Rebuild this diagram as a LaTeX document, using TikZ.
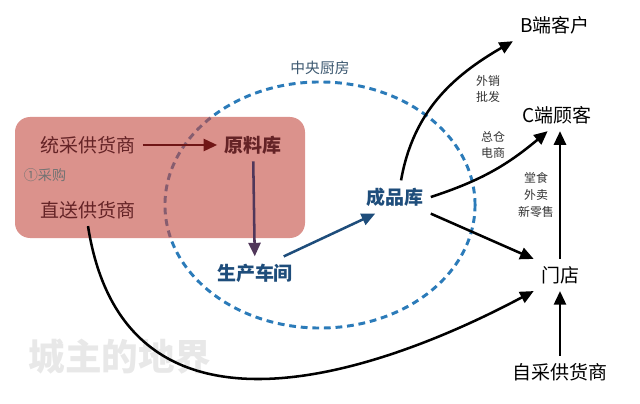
\documentclass[tikz,border=0pt]{standalone}
\usepackage{fontspec}
\setmainfont{Noto Sans CJK SC}
\usetikzlibrary{arrows.meta, positioning, calc}
\definecolor{rosa}{RGB}{195,73,63}
\definecolor{vinho}{RGB}{100,35,38}
\definecolor{setavinho}{RGB}{112,22,22}
\definecolor{roxo}{RGB}{80,55,90}
\definecolor{azul}{RGB}{30,77,123}
\definecolor{tracoazul}{RGB}{43,123,185}
\definecolor{cinzaazul}{RGB}{60,88,112}

\begin{document}
\begin{tikzpicture}[x=0.025cm, y=0.025cm,
        rotulo/.style={inner sep=5pt, font=\fontsize{13.5}{16}\selectfont},
        destaque/.style={inner sep=5pt, font=\fontsize{13.5}{16}\selectfont\bfseries},
        nota/.style={align=center, inner sep=1pt, text=black!80, font=\fontsize{8.5}{12}\selectfont},
        seta/.style={-{Triangle[length=3.4mm, width=3mm]}, line width=1.8pt},
        cozinha/.style={draw=tracoazul, line width=2.1pt, dash pattern=on 1.7mm off 1.2mm}
    ]
        \useasboundingbox (0,0) rectangle (640,403);

        \draw[cozinha] (320,198) ellipse [x radius=3.875cm, y radius=3.075cm];
        \node[text=cinzaazul, font=\fontsize{10.5}{12}\selectfont] (kitchen) at (320,335) {中央厨房};

        \fill[rosa, fill opacity=0.6, rounded corners=3.75mm] (15,165) rectangle (305,286);

        \node[rotulo, text=vinho] (tongcai) at (88,258) {统采供货商};
        \node[destaque, text=vinho] (yuanliao) at (253,258) {原料库};
        \node[text=black!55, font=\fontsize{10}{12}\selectfont] (caigou) at (45,228) {①采购};
        \node[rotulo, text=vinho] (zhisong) at (88,193) {直送供货商};

        \node[destaque, text=azul] (shengchan) at (255,130) {生产车间};
        \node[destaque, text=azul] (chengpin) at (395,206) {成品库};

        \node[rotulo] (bduan) at (555,378) {B端客户};
        \node[rotulo] (cduan) at (557,288) {C端顾客};
        \node[rotulo] (mendian) at (560,128) {门店};
        \node[rotulo] (zicai) at (560,31) {自采供货商};

        \node[nota] (waixiao) at (488,314) {外销\\批发};
        \node[nota] (zongcang) at (493,258) {总仓\\电商};
        \node[nota] (tangshi) at (536,208) {堂食\\外卖\\新零售};

        \node[text=black!9, font=\fontsize{26}{30}\selectfont\bfseries] (marca) at (120,46) {城主的地界};

        \draw[seta, setavinho] (tongcai) -- (yuanliao);
        \draw[seta, roxo] (yuanliao) -- (shengchan);
        \draw[seta, azul] (shengchan.30) -- (chengpin.220);
        \draw[seta] (chengpin.70) to[out=80, in=210] (bduan.south west);
        \draw[seta] (chengpin.east) to[out=18, in=220] (cduan.240);
        \draw[seta] (chengpin.south east) -- (mendian.north west);
        \draw[seta] (mendian.north) -- (mendian.north |- cduan.south);
        \draw[seta] (zicai) -- (mendian);
        \draw[seta] (zhisong.south) .. controls (125,-60) and (380,30) .. (mendian.south west);
    \end{tikzpicture}
\end{document}
